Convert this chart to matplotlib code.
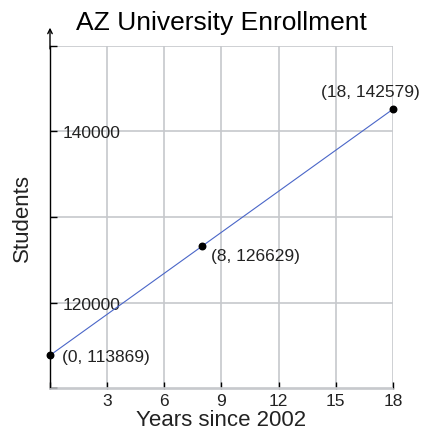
import matplotlib.pyplot as plt

plt.rcParams['font.family'] = ['Liberation Sans', 'DejaVu Sans']

# data
years = [0, 8, 18]
students = [113869, 126629, 142579]
point_labels = ['(0, 113869)', '(8, 126629)', '(18, 142579)']
# label offsets (points) and alignment per point
label_offsets = [(9, -1), (6, -7), (-16, 13)]
label_align = ['left', 'left', 'center']

x_ticks = [0, 3, 6, 9, 12, 15, 18]
x_tick_labels = ['', '3', '6', '9', '12', '15', '18']
y_ticks = [110000, 120000, 130000, 140000, 150000]
y_tick_labels = ['', '120000', '', '140000', '']

grid_color = '#c6c8cc'
line_color = '#4a66c8'

fig = plt.figure(figsize=(4.25, 4.35), dpi=100)
ax = fig.add_axes([50 / 425, 1 - 389.5 / 435, 343 / 425, 343 / 435])

ax.plot(years, students, color=line_color, lw=0.8, zorder=2)
ax.scatter(years, students, s=22, color='black', zorder=3, clip_on=False)

for x, y, txt, off, ha in zip(years, students, point_labels, label_offsets, label_align):
    ax.annotate(txt, (x, y), xytext=off, textcoords='offset points',
                ha=ha, va='center', fontsize=12.5, color='#222222')

ax.set_xlim(0, 18)
ax.set_ylim(110000, 150000)
ax.set_xticks(x_ticks)
ax.set_xticklabels(x_tick_labels)
ax.set_yticks(y_ticks)
ax.set_yticklabels(y_tick_labels)

ax.grid(True, color=grid_color, lw=1.2, zorder=0)
ax.set_axisbelow(True)

ax.tick_params(axis='both', direction='in', length=5, width=1, color='black',
               labelsize=12.5, labelcolor='#222222')
ax.tick_params(axis='x', pad=3)
ax.tick_params(axis='y', pad=-9)
for lab in ax.get_yticklabels():
    lab.set_horizontalalignment('left')

for side in ['top', 'right']:
    ax.spines[side].set_visible(False)
ax.spines['bottom'].set_color(grid_color)
ax.spines['bottom'].set_linewidth(1.2)
ax.spines['left'].set_color('black')
ax.spines['left'].set_linewidth(1.0)

# arrow on top of the y axis
ax.annotate('', xy=(0, 1.052), xytext=(0, 0.99), xycoords='axes fraction',
            arrowprops=dict(arrowstyle='->', color='black', lw=1.0,
                            shrinkA=0, shrinkB=0, mutation_scale=8),
            annotation_clip=False)

ax.set_title('AZ University Enrollment', fontsize=19, pad=12)
ax.set_xlabel('Years since 2002', fontsize=16, color='#222222', labelpad=1)
ax.set_ylabel('Students', fontsize=16, color='#222222', labelpad=12)

fig.savefig('out.png', dpi=100)
